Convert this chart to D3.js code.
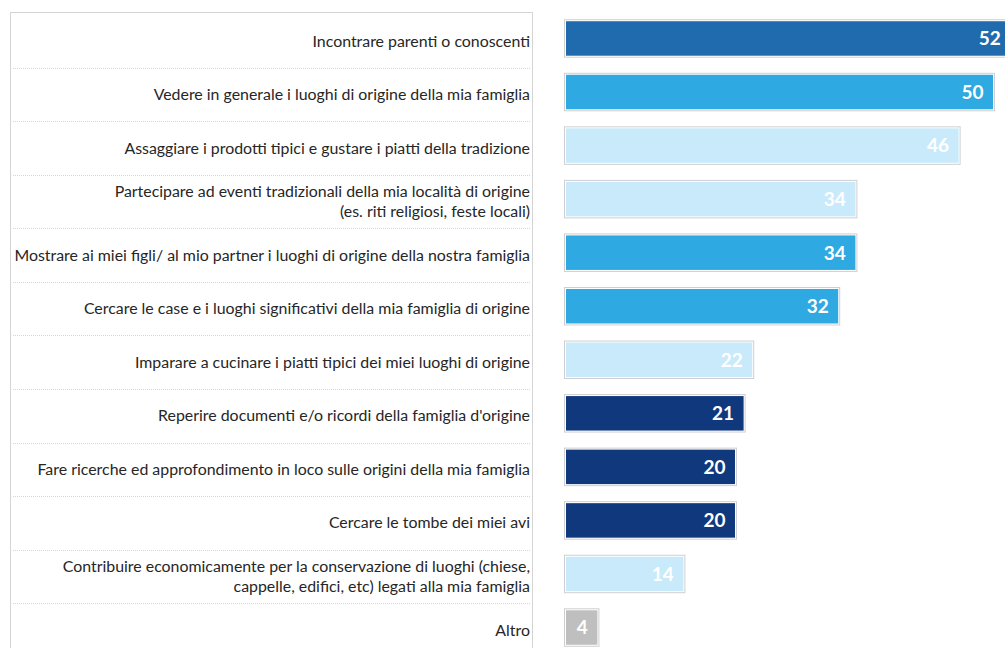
<!DOCTYPE html>
<html>
<head>
<meta charset="utf-8">
<script src="https://cdn.jsdelivr.net/npm/d3@7"></script>
<style>
  body { margin: 0; background: #fff; }
  svg { display: block; }
</style>
</head>
<body>
<div id="chart"></div>
<script>
// motivazioni (one entry per row, multi-line labels split into lines)
const categories = [
  ["Incontrare parenti o conoscenti"],
  ["Vedere in generale i luoghi di origine della mia famiglia"],
  ["Assaggiare i prodotti tipici e gustare i piatti della tradizione"],
  ["Partecipare ad eventi tradizionali della mia località di origine", "(es. riti religiosi, feste locali)"],
  ["Mostrare ai miei figli/ al mio partner i luoghi di origine della nostra famiglia"],
  ["Cercare le case e i luoghi significativi della mia famiglia di origine"],
  ["Imparare a cucinare i piatti tipici dei miei luoghi di origine"],
  ["Reperire documenti e/o ricordi della famiglia d'origine"],
  ["Fare ricerche ed approfondimento in loco sulle origini della mia famiglia"],
  ["Cercare le tombe dei miei avi"],
  ["Contribuire economicamente per la conservazione di luoghi (chiese,", "cappelle, edifici, etc) legati alla mia famiglia"],
  ["Altro"]
];
const values = [52, 50, 46, 34, 34, 32, 22, 21, 20, 20, 14, 4];
const groups = ["A", "B", "C", "C", "B", "B", "C", "D", "D", "D", "C", "E"];

const width = 1005, height = 648;
const rowIds = d3.range(categories.length);
const font = "Lato, 'Noto Sans', sans-serif";

const svg = d3.select("#chart").append("svg")
  .attr("width", width)
  .attr("height", height);

const y = d3.scaleBand()
  .domain(rowIds)
  .range([14.2, 656.8])
  .padding(0);

const x = d3.scaleLinear()
  .domain([0, 50])
  .range([564.5, 994.5]);

const color = d3.scaleOrdinal()
  .domain(["A", "B", "C", "D", "E"])
  .range(["#1f6bad", "#2ea9e2", "#c9eafb", "#10387d", "#bfbfbf"]);

// label box
svg.append("rect")
  .attr("x", 10.5).attr("y", 12.5)
  .attr("width", 522).attr("height", 660)
  .attr("fill", "none")
  .attr("stroke", "#d4d4d4");

// dotted separators
svg.selectAll(".sep")
  .data(rowIds.slice(0, -1))
  .join("line")
  .attr("class", "sep")
  .attr("x1", 13).attr("x2", 530)
  .attr("y1", d => Math.round(y(d) + y.bandwidth()) + 0.5)
  .attr("y2", d => Math.round(y(d) + y.bandwidth()) + 0.5)
  .attr("stroke", "#d6d6d6")
  .attr("stroke-dasharray", "1,1");

// row labels
const labels = svg.selectAll(".label")
  .data(rowIds)
  .join("text")
  .attr("class", "label")
  .attr("text-anchor", "end")
  .attr("font-family", font)
  .attr("font-size", 15.9)
  .attr("fill", "#262626");

labels.each(function(i) {
  const lines = categories[i];
  const cy = y(i) + y.bandwidth() / 2;
  const lh = 20;
  d3.select(this).selectAll("tspan")
    .data(lines)
    .join("tspan")
    .attr("x", 530)
    .attr("y", (d, k) => cy + (k - (lines.length - 1) / 2) * lh)
    .attr("dy", "0.35em")
    .text(d => d);
});

// bars
const barH = y.bandwidth() * 0.7;
const bars = svg.selectAll(".bar")
  .data(rowIds)
  .join("g")
  .attr("class", "bar")
  .attr("transform", d => `translate(0,${y(d) + (y.bandwidth() - barH) / 2 - 2.5})`);

bars.append("rect")
  .attr("x", x(0))
  .attr("y", 0)
  .attr("width", d => x(values[d]) - x(0))
  .attr("height", barH)
  .attr("fill", "#fff")
  .attr("stroke", "#cfcfcf");

bars.append("rect")
  .attr("x", x(0) + 1.5)
  .attr("y", 1.5)
  .attr("width", d => x(values[d]) - x(0) - 3)
  .attr("height", barH - 3)
  .attr("fill", d => color(groups[d]));

bars.append("text")
  .attr("x", d => x(values[d]) - 11)
  .attr("y", barH / 2)
  .attr("dy", "0.36em")
  .attr("text-anchor", "end")
  .attr("font-family", font)
  .attr("font-weight", "bold")
  .attr("font-size", 19)
  .attr("fill", "#fff")
  .text(d => values[d]);
</script>
</body>
</html>
